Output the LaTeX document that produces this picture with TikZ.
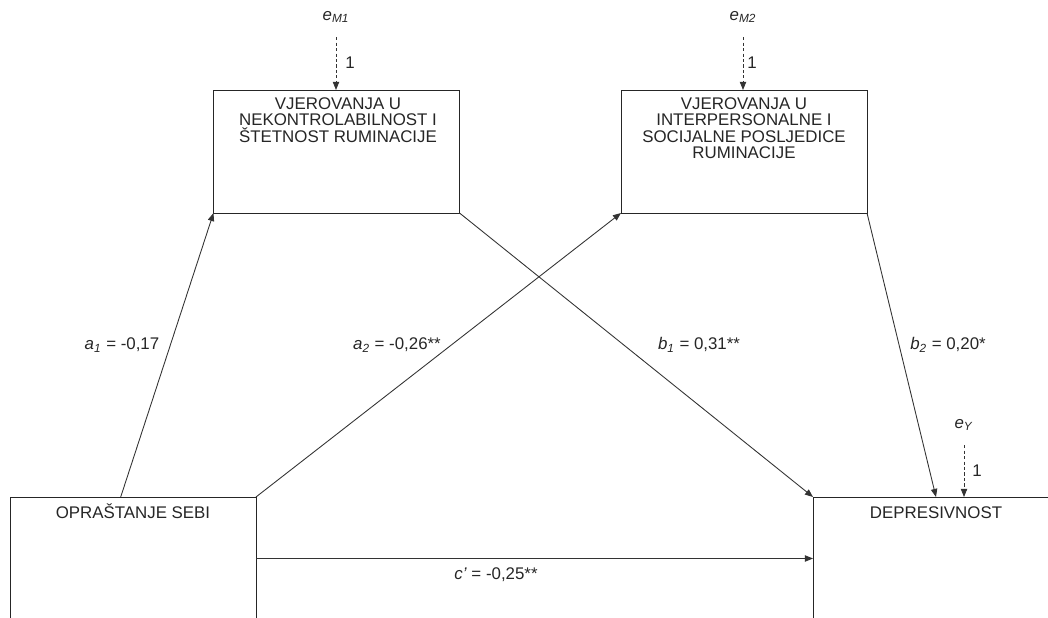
\documentclass[tikz,border=0pt]{standalone}
\usepackage{fontspec}
\setmainfont{Liberation Sans}
\usetikzlibrary{arrows.meta,calc,positioning}

\begin{document}
\begin{tikzpicture}[
  >={Triangle[length=4.6pt,width=3.6pt]},
  font=\fontsize{9.6}{9.3}\selectfont,
  varbox/.style={draw=black!85, line width=0.5pt, fill=white, inner sep=0pt, outer sep=0pt, minimum width=4.92cm, minimum height=2.46cm},
  boxtext/.style={align=center, inner sep=0pt, text=black!85},
  path/.style={->, line width=0.5pt, draw=black!80},
  errpath/.style={->, line width=0.5pt, draw=black!80, dash pattern=on 1.8pt off 1.3pt, shorten <=0.28cm},
  errlabel/.style={inner sep=0pt, text=black!85},
  coef/.style={inner sep=0pt, text=black!85}
]
\useasboundingbox (0,0) rectangle (20.96,12.36);
\clip (0,0) rectangle (20.96,12.36);

% mediators
\node[varbox] (m1) at (6.73,9.33) {};
\node[varbox] (m2) at (14.88,9.33) {};
\node[boxtext, anchor=north] (m1text) at ($(m1.north)+(0.03,-0.15)$) {VJEROVANJA U\\NEKONTROLABILNOST I\\ŠTETNOST RUMINACIJE};
\node[boxtext, anchor=north] (m2text) at ($(m2.north)+(0,-0.15)$) {VJEROVANJA U\\INTERPERSONALNE I\\SOCIJALNE POSLJEDICE\\RUMINACIJE};

% predictor and outcome
\node[varbox] (opr) at (2.66,1.19) {};
\node[varbox] (dep) at (18.72,1.19) {};
\node[boxtext, anchor=base] (oprtext) at ($(opr.north)+(0,-0.44)$) {OPRAŠTANJE SEBI};
\node[boxtext, anchor=base] (deptext) at ($(dep.north)+(0,-0.44)$) {DEPRESIVNOST};

% error terms
\node[errlabel] (em1) at (6.72,12.02) {\textit{e}\textsubscript{\textit{M1}}};
\node[errlabel] (em2) at (14.86,12.02) {\textit{e}\textsubscript{\textit{M2}}};
\node[errlabel] (ey) at (19.28,3.86) {\textit{e}\textsubscript{\textit{Y}}};
\draw[errpath] (em1.south) -- (em1.south |- m1.north);
\draw[errpath] (em2.south) -- (em2.south |- m2.north);
\draw[errpath] (ey.south) -- (ey.south |- dep.north);
\node[coef] (onem1) at (7.0,11.1) {1};
\node[coef] (onem2) at (15.04,11.1) {1};
\node[coef] (oney) at (19.54,2.94) {1};

% paths
\draw[path] ($(opr.north)!0.1!(opr.north west)$) -- (m1.south west);
\draw[path] (opr.north east) -- (m2.south west);
\draw[path] (m1.south east) -- (dep.north west);
\draw[path] (m2.south east) -- (dep.north);
\draw[path] (opr.east) -- (opr.east -| dep.west);

\node[coef] (la1) at (2.44,5.46) {\textit{a}\textsubscript{\textit{1}} = -0,17};
\node[coef] (la2) at (7.94,5.46) {\textit{a}\textsubscript{\textit{2}} = -0,26**};
\node[coef] (lb1) at (13.98,5.46) {\textit{b}\textsubscript{\textit{1}} = 0,31**};
\node[coef] (lb2) at (18.96,5.46) {\textit{b}\textsubscript{\textit{2}} = 0,20*};
\node[coef] (lc) at (9.92,0.86) {\textit{c'} = -0,25**};
\end{tikzpicture}
\end{document}
